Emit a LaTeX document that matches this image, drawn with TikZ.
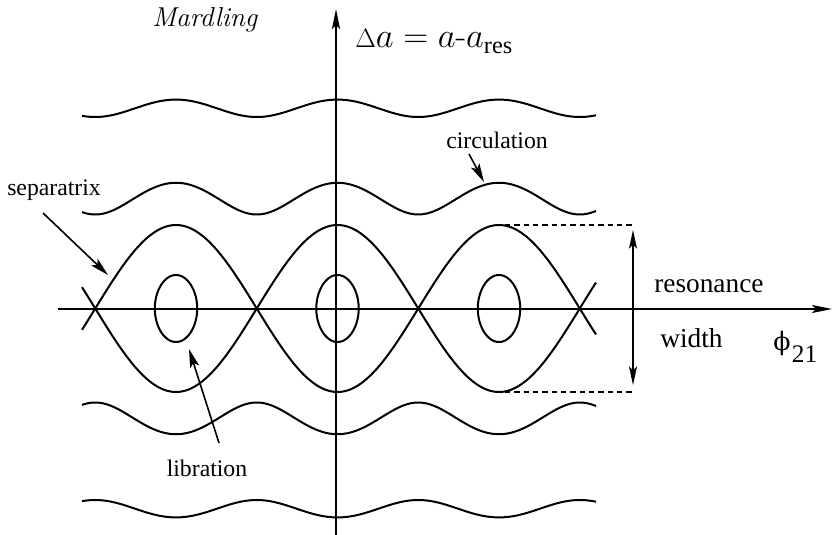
\RequirePackage{fix-cm}
\documentclass[tikz,border=0pt]{standalone}
\usepackage{amsmath}
\usepackage{fontspec}
\newfontfamily\tms{Liberation Serif}
\newfontfamily\djv{DejaVu Serif}
\usetikzlibrary{arrows.meta}
\begin{document}
\begin{tikzpicture}[x=0.75pt,y=-0.75pt,
  curve/.style={line width=1.5pt},
  axis/.style={line width=1pt,-{Stealth[length=15pt,width=6pt,inset=3pt]}},
  ptr/.style={line width=1.2pt,-{Stealth[length=14pt,width=7pt,inset=3pt]}},
  dbl/.style={line width=1pt,{Stealth[length=14pt,width=6pt,inset=3pt]}-{Stealth[length=14pt,width=6pt,inset=3pt]}},
  lbl/.style={inner sep=0pt,font=\tms\fontsize{17.8pt}{20pt}\selectfont},
  big/.style={inner sep=0pt,font=\tms\fontsize{20.5pt}{23pt}\selectfont},
  guide/.style={line width=0.8pt,dash pattern=on 4pt off 3pt}]
\useasboundingbox (0,0) rectangle (832,535);
\def\xo{337.5}\def\pX{161.5}\def\yo{308.5}\def\Amp{83.5}
% axes
\coordinate (xs) at (58,309);
\coordinate (xe) at (832,309);
\coordinate (ys) at (336,535);
\coordinate (ye) at (336,9);
\draw[axis] (xs) -- (xe);
\draw[axis] (ys) -- (ye);
% separatrix
\draw[curve] plot[domain=82:596,samples=200,smooth] (\x,{\yo-\Amp*cos((\x-\xo)/\pX*180)});
\draw[curve] plot[domain=82:596,samples=200,smooth] (\x,{\yo+\Amp*cos((\x-\xo)/\pX*180)});
% circulation
\foreach \cc in {88.36,366.72}{
  \draw[curve] plot[domain=82:596,samples=200,smooth] (\x,{\yo-10*sqrt(\cc+69.72*pow(cos((\x-\xo)/\pX*180),2))});
  \draw[curve] plot[domain=82:596,samples=200,smooth] (\x,{\yo+10*sqrt(\cc+69.72*pow(cos((\x-\xo)/\pX*180),2))});
}
% libration
\foreach \k in {-1,0,1}{
  \draw[curve] plot[domain=0:360,samples=121,variable=\t] ({\xo+\k*\pX+asin(0.401*sin(\t))*\pX/180},{\yo+33.5*cos(\t)}) -- cycle;
}
% resonance width
\coordinate (dt0) at (505,225);
\coordinate (dt1) at (633,225);
\coordinate (db0) at (505,392);
\coordinate (db1) at (633,392);
\coordinate (wt) at (633,230);
\coordinate (wb) at (633,385);
\draw[guide] (dt0) -- (dt1);
\draw[guide] (db0) -- (db1);
\draw[dbl] (wt) -- (wb);
% labels
\node[lbl,anchor=base west] (sep) at (7,195) {separatrix};
\node[lbl,anchor=base] (circ) at (497,148) {circulation};
\node[lbl,anchor=base] (lib) at (207,476) {libration};
\node[big,anchor=base west] (res) at (654,292) {resonance};
\node[big,anchor=base west] (wid) at (660,347) {width};
\node[anchor=base west,inner sep=0pt,font=\itshape\fontsize{20.5pt}{24pt}\selectfont] (mard) at (152,27) {Mardling};
\node[anchor=base west,inner sep=0pt,font=\fontsize{26pt}{30pt}\selectfont] (da) at (355,48) {$\text{\fontsize{20pt}{20pt}\selectfont$\Delta$}a = a\text{-}a_{\text{\tms res}}$};
\node[anchor=base west,inner sep=0pt,font=\djv\fontsize{19pt}{24pt}\selectfont] (phi) at (773,350) {ϕ\hspace{1pt}\raisebox{-9pt}{\tms\fontsize{19pt}{21pt}\selectfont 21}};
% pointers
\coordinate (sept) at (43,213);
\coordinate (seph) at (108,275);
\coordinate (cirt) at (469,154);
\coordinate (cirh) at (484,182);
\coordinate (libt) at (219,443);
\coordinate (libh) at (189,349);
\draw[ptr] (sept) -- (seph);
\draw[ptr] (cirt) -- (cirh);
\draw[ptr] (libt) -- (libh);
\end{tikzpicture}
\end{document}
